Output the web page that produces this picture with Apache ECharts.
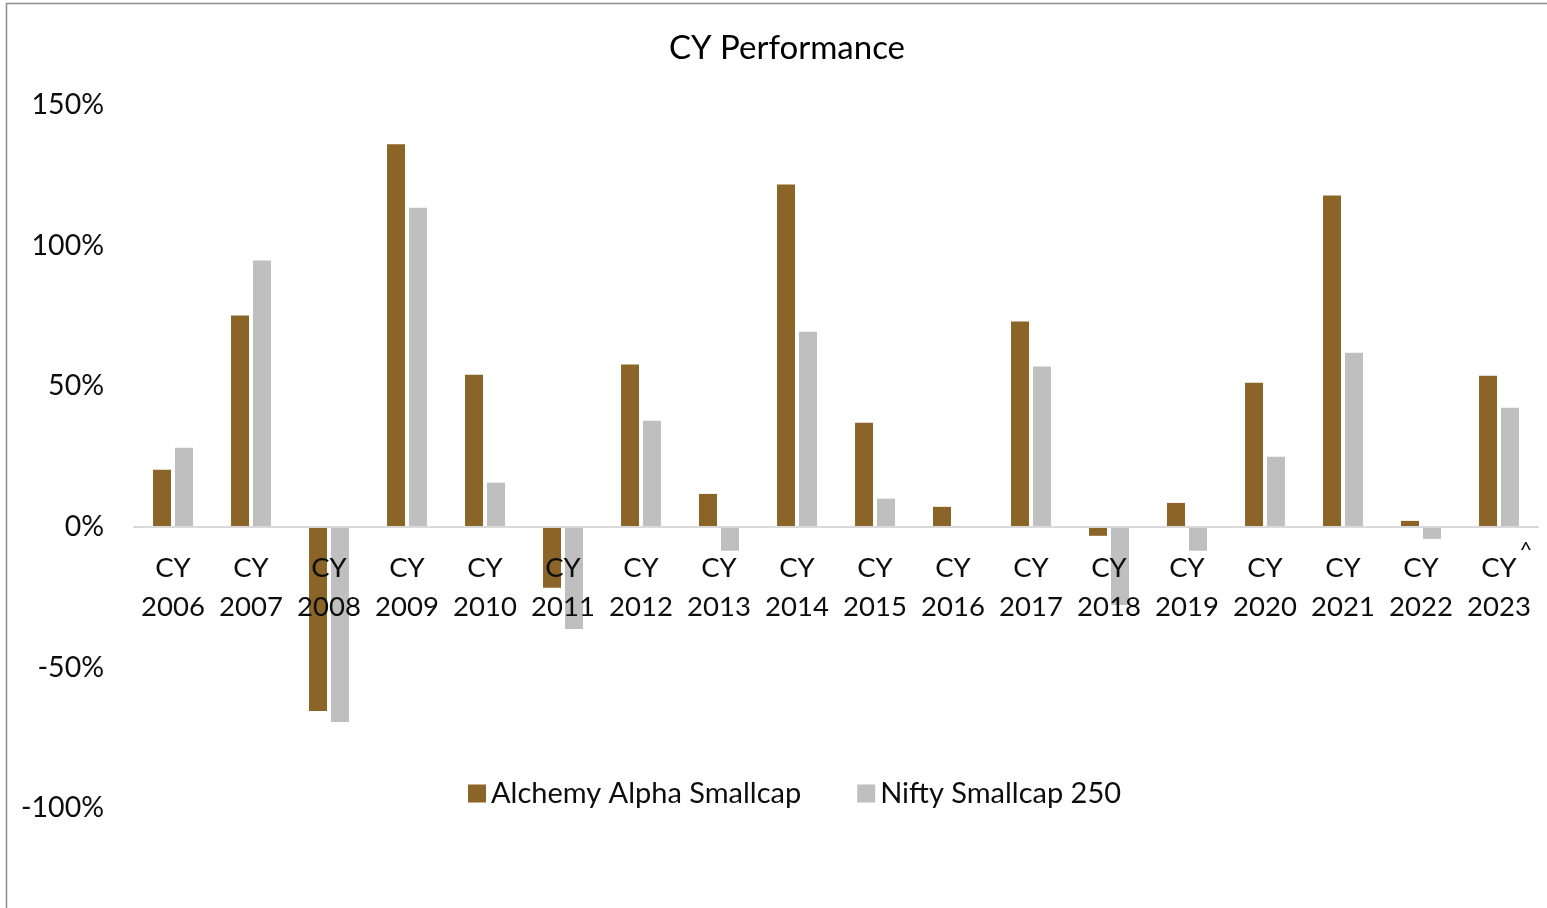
<!DOCTYPE html>
<html>
<head>
<meta charset="utf-8">
<script src="https://cdn.jsdelivr.net/npm/echarts@6/dist/echarts.min.js"></script>
<style>
  html, body { margin: 0; padding: 0; background: #fff; }
  #chart { width: 1547px; height: 908px; }
</style>
</head>
<body>
<div id="chart"></div>
<script>
  const years = ["2006", "2007", "2008", "2009", "2010", "2011", "2012", "2013", "2014",
    "2015", "2016", "2017", "2018", "2019", "2020", "2021", "2022", "2023^"];
  const alchemy = [20.3, 75.1, -65.5, 136, 54.1, -21.7, 57.7, 11.7, 121.7,
    37, 7.1, 73, -3.2, 8.5, 51.2, 117.8, 2.1, 53.7];
  const nifty = [28.1, 94.7, -69.4, 113.5, 15.7, -36.3, 37.7, -8.5, 69.4,
    10, 0.3, 57, -27.8, -8.5, 24.9, 61.9, -4.3, 42.3];
  const yTicks = [-100, -50, 0, 50, 100, 150];

  const chart = echarts.init(document.getElementById("chart"));
  const font = "Lato";
  const gridTop = 105;
  const gridBottom = 100;
  const yMin = yTicks[0];
  const yMax = yTicks[yTicks.length - 1];
  // lift the category axis (and its labels) up to the zero line
  const plotH = 908 - gridTop - gridBottom;
  const zeroOffset = -plotH * (0 - yMin) / (yMax - yMin);

  chart.setOption({
    animation: false,
    textStyle: { fontFamily: font },
    title: {
      text: "CY Performance",
      left: 664,
      top: 27,
      textStyle: { fontFamily: font, fontSize: 33, fontWeight: "normal", color: "#000" },
    },
    legend: {
      bottom: 95,
      left: 463,
      itemWidth: 18,
      itemHeight: 18,
      itemGap: 56,
      icon: "rect",
      textStyle: { fontFamily: font, fontSize: 29, color: "#0d0d0d" },
    },
    grid: { left: 134, right: 9, top: gridTop, bottom: gridBottom },
    xAxis: {
      type: "category",
      data: years,
      z: 5,
      offset: zeroOffset,
      axisLine: { onZero: false, lineStyle: { color: "#d9d9d9", width: 2 } },
      axisTick: { show: false },
      axisLabel: {
        interval: 0,
        margin: 22,
        fontFamily: font,
        fontSize: 27.5,
        lineHeight: 39,
        color: "#0d0d0d",
        formatter: (v) => {
          if (v.endsWith("^")) {
            return "{sp|}{a|CY}{s|^}\n{a|" + v.slice(0, -1) + "}";
          }
          return "CY\n" + v;
        },
        rich: {
          a: { fontFamily: font, fontSize: 27.5, lineHeight: 39, color: "#0d0d0d" },
          sp: { width: 16 },
          s: { fontFamily: font, fontSize: 22, color: "#0d0d0d", width: 14, padding: [0, 0, 36, 2] },
        },
      },
    },
    yAxis: {
      type: "value",
      min: yMin,
      max: yMax,
      interval: 50,
      axisLine: { show: false },
      axisTick: { show: false },
      splitLine: { show: false },
      axisLabel: {
        margin: 30,
        fontFamily: font,
        fontSize: 28.5,
        color: "#0d0d0d",
        formatter: "{value}%",
      },
    },
    series: [
      {
        name: "Alchemy Alpha Smallcap",
        type: "bar",
        data: alchemy,
        barWidth: 18,
        barGap: "22%",
        itemStyle: { color: "#8b6528" },
      },
      {
        name: "Nifty Smallcap 250",
        type: "bar",
        data: nifty,
        barWidth: 18,
        itemStyle: { color: "#bfbfbf" },
      },
    ],
    graphic: [
      {
        type: "rect",
        silent: true,
        shape: { x: 6.5, y: 3.5, width: 1600, height: 1000 },
        style: { fill: "none", stroke: "#8c8c8c", lineWidth: 1.5 },
      },
    ],
  });
</script>
</body>
</html>
